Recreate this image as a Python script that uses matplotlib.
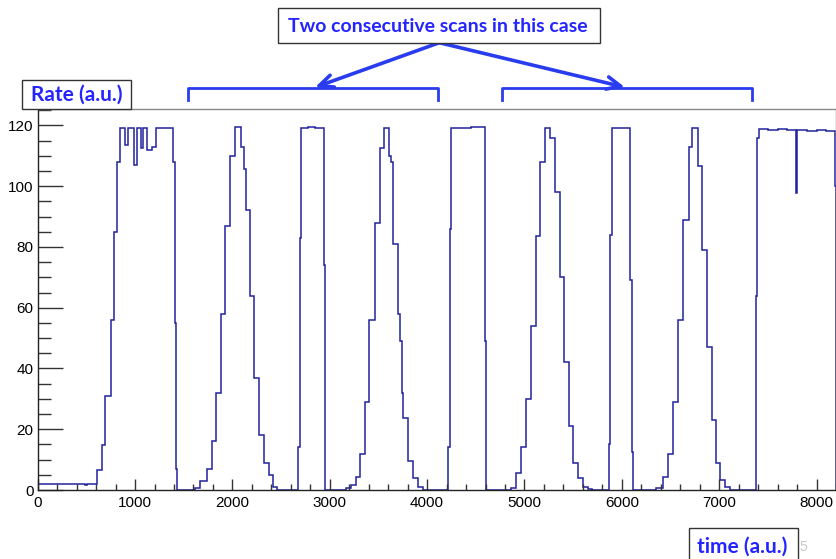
import matplotlib
matplotlib.use("Agg")
import matplotlib.pyplot as plt
from matplotlib.ticker import MultipleLocator
from matplotlib.patches import Rectangle
from matplotlib.lines import Line2D

# start time of each step (a.u.) and the rate level that follows it
base_t = [0, 490, 510]
base_r = [2.0, 1.6, 2.0]

scan1_t = [605, 659, 691, 749, 783, 811, 847, 895, 932, 985, 1025, 1058, 1080,
           1127, 1170, 1212, 1250, 1320, 1393, 1411, 1422, 1433]
scan1_r = [6.5, 14.8, 31, 56, 85, 108, 119.0, 113.5, 119.0, 107, 119.0, 112.6,
           119.0, 112, 113, 119.3, 119.0, 119.3, 108, 55, 7, 0]

scan2_t = [1619, 1666, 1734, 1789, 1835, 1886, 1927, 1979, 2028, 2086, 2117,
           2141, 2179, 2225, 2276, 2322, 2374, 2420, 2461]
scan2_r = [0.5, 3, 7, 16, 32, 58, 87, 110, 119.4, 113, 105.5, 92, 64, 37, 18,
           9, 5, 1, 0]

scan3_t = [2674, 2692, 2709, 2780, 2850, 2938, 2956]
scan3_r = [14, 83, 119.2, 119.5, 119.1, 74, 0]

scan4_t = [3171, 3222, 3274, 3307, 3359, 3403, 3461, 3513, 3554, 3605, 3633,
           3649, 3701, 3725, 3740, 3752, 3803, 3854, 3906, 3957]
scan4_r = [0.5, 1.6, 4.3, 12, 29, 56, 88, 112.5, 119.3, 110, 108, 81, 58, 49,
           32, 23.6, 9.5, 4, 1, 0]

scan5_t = [4214, 4231, 4249, 4350, 4450, 4590, 4597, 4608]
scan5_r = [14, 86, 119.3, 119.0, 119.4, 110.5, 49, 0]

scan6_t = [4864, 4915, 4967, 5018, 5069, 5114, 5162, 5216, 5264, 5309, 5360,
           5404, 5455, 5503, 5555, 5599, 5650, 5698]
scan6_r = [0.5, 5.6, 14, 30, 54, 83.5, 108, 119.3, 116, 98, 70, 42, 21, 9, 4,
           1, 0.3, 0]

scan7_t = [5866, 5880, 5894, 5990, 6085, 6106, 6119]
scan7_r = [15, 84, 119.3, 119.0, 69, 12.6, 0]

scan8_t = [6352, 6420, 6471, 6523, 6574, 6625, 6687, 6722, 6779, 6824, 6876,
           6923, 6968, 7012, 7063, 7114]
scan8_r = [0.5, 4.4, 12, 29, 56, 89, 113, 119, 106.6, 79, 47, 23, 9, 3.3, 1, 0]

scan9_t = [7378, 7385, 7405, 7500, 7600, 7700, 7789, 7800, 7900, 8000, 8100, 8188]
scan9_r = [64, 116, 118.8, 118.6, 118.9, 118.5, 97.6, 118.4, 118.2, 118.5, 118.2, 100]

t_end = 8200

W, H = 837, 559


def fx(px):
    return px / W


def fy(py):
    return 1 - py / H


step_t = (base_t + scan1_t + scan2_t + scan3_t + scan4_t + scan5_t + scan6_t
          + scan7_t + scan8_t + scan9_t)
step_r = (base_r + scan1_r + scan2_r + scan3_r + scan4_r + scan5_r + scan6_r
          + scan7_r + scan8_r + scan9_r)
edges = step_t + [t_end]

plt.rcParams["font.family"] = ["Liberation Sans", "DejaVu Sans"]

fig = plt.figure(figsize=(W / 100, H / 100), dpi=100)
ax = fig.add_axes([fx(37.7), 1 - 490 / H, fx(836.0) - fx(37.7), (490 - 109.3) / H])

ax.stairs(step_r, edges, color="#22229e", linewidth=1.1)

ax.set_xlim(0, t_end)
ax.set_ylim(0, 125.3)
ax.xaxis.set_major_locator(MultipleLocator(1000))
ax.xaxis.set_minor_locator(MultipleLocator(200))
ax.yaxis.set_major_locator(MultipleLocator(20))
ax.yaxis.set_minor_locator(MultipleLocator(5))

ax.tick_params(axis="y", which="major", direction="in", length=18, width=1,
               color="#333333", labelsize=11, pad=3)
ax.tick_params(axis="y", which="minor", direction="in", length=9, width=1,
               color="#333333")
ax.tick_params(axis="x", which="major", direction="in", length=8.2, width=1,
               color="#333333", labelsize=11, pad=4)
ax.tick_params(axis="x", which="minor", direction="in", length=4.1, width=1,
               color="#333333")

for side in ["left", "bottom"]:
    ax.spines[side].set_color("#222222")
    ax.spines[side].set_linewidth(1.0)
for side in ["top", "right"]:
    ax.spines[side].set_color("#888888")
    ax.spines[side].set_linewidth(1.0)

blue = "#2424ff"
arrow_blue = "#2a3cf0"
label_font = dict(family=["Lato", "DejaVu Sans"], weight="bold", color=blue)

# "Rate (a.u.)" box
fig.add_artist(Rectangle((fx(22.5), fy(109)), fx(131.5) - fx(22.5), fy(80) - fy(109),
                         transform=fig.transFigure, facecolor="white",
                         edgecolor="#333333", linewidth=1.0, zorder=5))
fig.text(fx(77), fy(95), "Rate (a.u.)", ha="center", va="center", fontsize=15,
         zorder=6, **label_font)

# title box
fig.add_artist(Rectangle((fx(277.7), fy(43.3)), fx(600) - fx(277.7), fy(8.3) - fy(43.3),
                         transform=fig.transFigure, facecolor="white",
                         edgecolor="#333333", linewidth=1.0, zorder=5))
fig.text(fx(437.5), fy(27), "Two consecutive scans in this case", ha="center",
         va="center", fontsize=14, zorder=6, **label_font)

# "time (a.u.)" box
fig.add_artist(Rectangle((fx(689.3), fy(565)), fx(797.7) - fx(689.3), fy(528.3) - fy(565),
                         transform=fig.transFigure, facecolor="white",
                         edgecolor="#333333", linewidth=1.0, zorder=5))
fig.text(fx(742.5), fy(547), "time (a.u.)", ha="center", va="center", fontsize=15,
         zorder=6, **label_font)
fig.text(fx(799.5), fy(547), "5", ha="left", va="center", fontsize=10,
         color="#c8c8c8")

# brackets for the two scans
for x0, x1 in [(188.3, 438.3), (501.7, 752.0)]:
    fig.add_artist(Line2D([fx(x0), fx(x0), fx(x1), fx(x1)],
                          [fy(100), fy(87.5), fy(87.5), fy(100)],
                          transform=fig.transFigure, color=arrow_blue,
                          linewidth=2.0, solid_joinstyle="round"))

# arrows from the title box to the brackets
for tip in [(315, 87.3), (625, 87.3)]:
    ax.annotate("", xy=(fx(tip[0]), fy(tip[1])), xytext=(fx(439.3), fy(42.7)),
                xycoords="figure fraction", textcoords="figure fraction",
                arrowprops=dict(arrowstyle="->,head_length=1.0,head_width=0.45",
                                color=arrow_blue, linewidth=2.6,
                                shrinkA=0, shrinkB=0))

fig.savefig("out.png", dpi=100)
plt.close(fig)
